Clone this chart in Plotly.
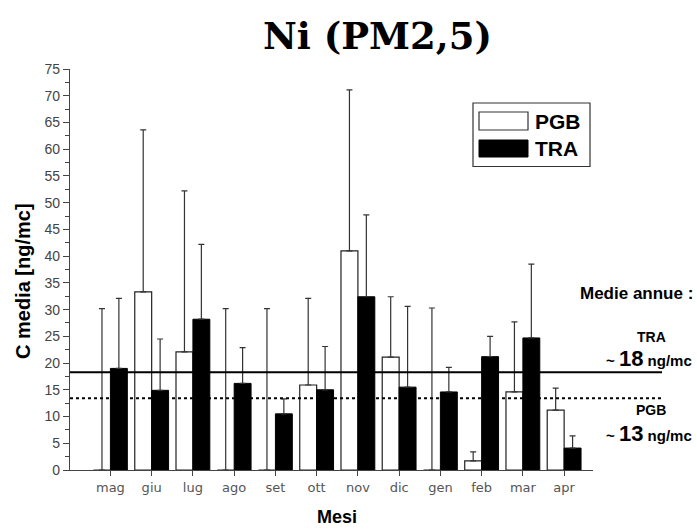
import plotly.graph_objects as go

months = ["mag", "giu", "lug", "ago", "set", "ott", "nov", "dic", "gen", "feb", "mar", "apr"]
pgb = [0, 33.3, 22.1, 0, 0, 15.9, 41.0, 21.1, 0, 1.7, 14.6, 11.2]
pgb_err_top = [30.2, 63.6, 52.2, 30.2, 30.2, 32.1, 71.1, 32.4, 30.3, 3.4, 27.7, 15.3]
tra = [19.0, 14.9, 28.2, 16.2, 10.5, 15.0, 32.4, 15.5, 14.6, 21.2, 24.7, 4.1]
tra_err_top = [32.1, 24.5, 42.2, 22.9, 13.3, 23.1, 47.7, 30.6, 19.2, 25.0, 38.5, 6.4]
mean_tra = 18.3
mean_pgb = 13.4

pgb_err = [t - v for t, v in zip(pgb_err_top, pgb)]
tra_err = [t - v for t, v in zip(tra_err_top, tra)]

fig = go.Figure()
fig.add_trace(go.Bar(
    x=months, y=pgb, name="PGB",
    marker=dict(color="white", line=dict(color="#222", width=1.2)),
    error_y=dict(type="data", array=pgb_err, arrayminus=[0] * 12, symmetric=False,
                 color="#333", thickness=1.2, width=3),
))
fig.add_trace(go.Bar(
    x=months, y=tra, name="TRA",
    marker=dict(color="black", line=dict(color="black", width=1)),
    error_y=dict(type="data", array=tra_err, arrayminus=[0] * 12, symmetric=False,
                 color="#333", thickness=1.2, width=3),
))

plot_l, plot_r = 70, 593
W, H = 697, 529
x_ext = (662 - plot_l) / (plot_r - plot_l)

fig.add_shape(type="line", xref="paper", yref="y", x0=0, x1=x_ext, y0=mean_tra, y1=mean_tra,
              line=dict(color="black", width=2), layer="above")
fig.add_shape(type="line", xref="paper", yref="y", x0=0, x1=x_ext, y0=mean_pgb, y1=mean_pgb,
              line=dict(color="black", width=2, dash="dot"), layer="above")

# legend box (drawn manually)
def px_x(p):
    return (p - plot_l) / (plot_r - plot_l)

def px_y(p):
    return (470 - p) / (470 - 69)

fig.add_shape(type="rect", xref="paper", yref="paper", x0=px_x(473), x1=px_x(590),
              y0=px_y(166.5), y1=px_y(103), line=dict(color="#333", width=1.2), fillcolor="white",
              layer="above")
fig.add_shape(type="rect", xref="paper", yref="paper", x0=px_x(479), x1=px_x(528),
              y0=px_y(130), y1=px_y(112), line=dict(color="#333", width=1.2), fillcolor="white",
              layer="above")
fig.add_shape(type="rect", xref="paper", yref="paper", x0=px_x(479), x1=px_x(528),
              y0=px_y(157), y1=px_y(140), line=dict(color="black", width=1), fillcolor="black",
              layer="above")

ann_font = dict(family="Liberation Sans, Arial", color="black")
annotations = [
    dict(text="<b>PGB</b>", x=px_x(533), y=px_y(121), xanchor="left", yanchor="middle",
         font=dict(size=21, **ann_font)),
    dict(text="<b>TRA</b>", x=px_x(533), y=px_y(148.5), xanchor="left", yanchor="middle",
         font=dict(size=21, **ann_font)),
    dict(text="<b>Medie annue :</b>", x=px_x(636), y=px_y(293), xanchor="center", yanchor="middle",
         font=dict(size=17, **ann_font)),
    dict(text="<b>TRA</b>", x=px_x(651), y=px_y(337), xanchor="center", yanchor="middle",
         font=dict(size=14, **ann_font)),
    dict(text="<b>~ <span style='font-size:22px'>18</span> ng/mc</b>", x=px_x(649), y=px_y(358),
         xanchor="center", yanchor="middle", font=dict(size=15, **ann_font)),
    dict(text="<b>PGB</b>", x=px_x(651), y=px_y(410), xanchor="center", yanchor="middle",
         font=dict(size=14, **ann_font)),
    dict(text="<b>~ <span style='font-size:22px'>13</span> ng/mc</b>", x=px_x(649), y=px_y(433),
         xanchor="center", yanchor="middle", font=dict(size=15, **ann_font)),
    dict(text="<b>Ni (PM2,5)</b>", x=px_x(377), y=px_y(36), xanchor="center", yanchor="middle",
         font=dict(size=37, family="DejaVu Serif", color="black")),
    dict(text="<b>C media [ng/mc]</b>", x=px_x(23), y=px_y(281), xanchor="center", yanchor="middle",
         textangle=-90, font=dict(size=20, **ann_font)),
    dict(text="<b>Mesi</b>", x=px_x(337), y=px_y(517), xanchor="center", yanchor="middle",
         font=dict(size=18, **ann_font)),
]
for a in annotations:
    a.update(xref="paper", yref="paper", showarrow=False)

fig.update_layout(
    width=W, height=H,
    margin=dict(l=plot_l, r=W - plot_r, t=69, b=H - 470, pad=0),
    plot_bgcolor="white", paper_bgcolor="white",
    barmode="group", bargap=0.18, bargroupgap=0,
    showlegend=False,
    annotations=annotations,
    xaxis=dict(range=[-0.98, 11.7], showline=True, linecolor="#444", linewidth=1.2,
               ticks="outside", ticklen=5, tickcolor="#444", showgrid=False,
               tickfont=dict(family="DejaVu Sans", size=13, color="#555"), zeroline=False),
    yaxis=dict(range=[0, 75], showline=True, linecolor="#444", linewidth=1.2,
               ticks="outside", ticklen=6, tickcolor="#444", showgrid=False,
               tickvals=list(range(0, 76, 5)),
               minor=dict(ticks="outside", ticklen=4, tickcolor="#444", dtick=2.5, showgrid=False),
               tickfont=dict(family="Liberation Sans, Arial", size=14, color="#444"), zeroline=False),
)

fig.write_html("out.html")
